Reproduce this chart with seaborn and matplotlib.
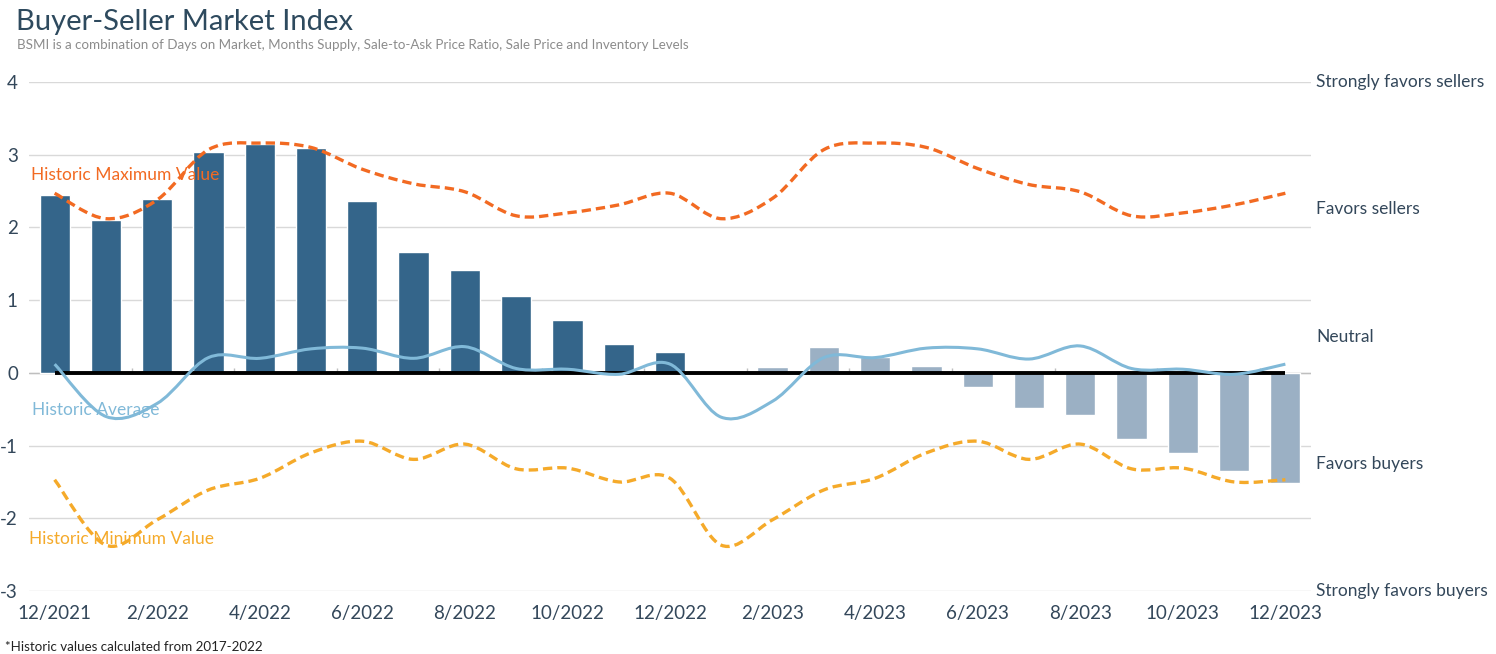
# -*- coding: utf-8 -*-

## Libraries ##

import numpy as np
import pandas as pd
import matplotlib
matplotlib.use("Agg")
import matplotlib.pyplot as plt
import seaborn as sns
from matplotlib.path import Path
from matplotlib.patches import PathPatch

## Data ##

months = ["12/2021", "1/2022", "2/2022", "3/2022", "4/2022", "5/2022", "6/2022",
          "7/2022", "8/2022", "9/2022", "10/2022", "11/2022", "12/2022",
          "1/2023", "2/2023", "3/2023", "4/2023", "5/2023", "6/2023",
          "7/2023", "8/2023", "9/2023", "10/2023", "11/2023", "12/2023"]

bsmi = [2.45, 2.10, 2.39, 3.04, 3.15, 3.09, 2.37, 1.66, 1.42, 1.06, 0.73, 0.40, 0.28,
        0.00, 0.08, 0.36, 0.22, 0.10, -0.19, -0.49, -0.58, -0.91, -1.10, -1.35, -1.52]

period = ["2022"] * 13 + ["2023"] * 12

hist_max = [2.47, 2.12, 2.38, 3.07, 3.16, 3.10, 2.80, 2.60, 2.49, 2.16, 2.20, 2.31, 2.47,
            2.12, 2.40, 3.07, 3.16, 3.10, 2.81, 2.59, 2.49, 2.16, 2.20, 2.31, 2.47]

hist_min = [-1.47, -2.37, -2.02, -1.61, -1.45, -1.10, -0.94, -1.19, -0.98, -1.32, -1.31, -1.50, -1.45,
            -2.37, -2.02, -1.61, -1.45, -1.10, -0.94, -1.19, -0.98, -1.32, -1.31, -1.50, -1.47]

hist_avg = [0.12, -0.60, -0.42, 0.21, 0.20, 0.33, 0.34, 0.20, 0.36, 0.06, 0.05, -0.02, 0.12,
            -0.61, -0.39, 0.21, 0.21, 0.34, 0.33, 0.19, 0.37, 0.06, 0.05, -0.02, 0.12]

zero_line = [0.0] * 25

x_tick_labels = months[::2]
y_ticks = [-3, -2, -1, 0, 1, 2, 3, 4]
side_labels = ["Strongly favors sellers", "Favors sellers", "Neutral",
               "Favors buyers", "Strongly favors buyers"]
side_levels = [4.0, 2.25, 0.5, -1.25, -3.0]

## Colors ##

dark_bar = "#34658A"
light_bar = "#9BB0C4"
max_col = "#F26A22"
min_col = "#F5AA2A"
avg_col = "#80B9D8"
text_col = "#33475A"

FONT = ["Lato", "DejaVu Sans"]


def smooth_path(xs, ys):
    # Excel-like smoothed line: cubic bezier through every point
    pts = np.column_stack([xs, ys]).astype(float)
    n = len(pts)
    verts = [pts[0]]
    codes = [Path.MOVETO]
    for i in range(n - 1):
        p0 = pts[i - 1] if i > 0 else pts[i]
        p1 = pts[i]
        p2 = pts[i + 1]
        p3 = pts[i + 2] if i + 2 < n else pts[i + 1]
        c1 = p1 + (p2 - p0) / 6.0
        c2 = p2 - (p3 - p1) / 6.0
        verts += [c1, c2, p2]
        codes += [Path.CURVE4] * 3
    return Path(verts, codes)


## Plot ##

sns.set_style("white")
plt.rcParams['font.family'] = FONT

df = pd.DataFrame({"Month": months, "BSMI": bsmi, "Period": period})

fig = plt.figure(figsize=(14.96, 6.54), dpi=100)
ax = fig.add_axes([29 / 1496, 1 - 591 / 654, (1311 - 29) / 1496, (591 - 82) / 654])

sns.barplot(data=df, x="Month", y="BSMI", hue="Period", order=months,
            palette={"2022": dark_bar, "2023": light_bar}, dodge=False,
            saturation=1, width=0.59, legend=False, ax=ax, zorder=2)

xs = np.arange(len(months))

ax.axhline(0, color="#BFBFBF", lw=1, zorder=1)
ax.vlines(np.arange(1.5, len(months), 2), 0, 0.07, color="#BFBFBF", lw=1, zorder=1)
ax.plot(xs, zero_line, color="black", lw=2.8, zorder=3, solid_capstyle="butt")

ax.add_patch(PathPatch(smooth_path(xs, hist_avg), fill=False, edgecolor=avg_col,
                       lw=2.2, zorder=4))
ax.add_patch(PathPatch(smooth_path(xs, hist_max), fill=False, edgecolor=max_col,
                       lw=2.4, linestyle=(0, (2.8, 1.5)), zorder=4))
ax.add_patch(PathPatch(smooth_path(xs, hist_min), fill=False, edgecolor=min_col,
                       lw=2.4, linestyle=(0, (2.8, 1.5)), zorder=4))

ax.set_xlim(-0.5, len(months) - 0.5)
ax.set_ylim(-3, 4)
ax.set_yticks(y_ticks)
ax.set_yticklabels([str(v) for v in y_ticks])
ax.set_xticks(xs[::2])
ax.set_xticklabels(x_tick_labels)
ax.grid(axis="y", color="#D9D9D9", lw=1)
ax.set_axisbelow(True)
for s in ax.spines.values():
    s.set_visible(False)
ax.tick_params(axis="both", length=0, labelsize=13.5, colors=text_col)
ax.tick_params(axis="x", pad=10)
ax.tick_params(axis="y", pad=8)
ax.set_xlabel("")
ax.set_ylabel("")

# series labels
ax.text(-0.47, 2.72, "Historic Maximum Value", color=max_col, fontsize=12.5,
        va="center", ha="left", zorder=2.5)
ax.text(-0.45, -0.51, "Historic Average", color=avg_col, fontsize=12.5,
        va="center", ha="left", zorder=2.5)
ax.text(-0.5, -2.28, "Historic Minimum Value", color=min_col, fontsize=12.5,
        va="center", ha="left", zorder=2.5)

# right side scale
for lab, lvl in zip(side_labels, side_levels):
    ax.text(1.004, lvl, lab, transform=ax.get_yaxis_transform(), color=text_col,
            fontsize=12.5, va="center", ha="left")

# titles
fig.text(16 / 1496, 1 - 22 / 654, "Buyer-Seller Market Index", fontsize=21,
         color="#2E4A5E", va="center", ha="left")
fig.text(17 / 1496, 1 - 45 / 654,
         "BSMI is a combination of Days on Market, Months Supply, Sale-to-Ask Price Ratio, "
         "Sale Price and Inventory Levels",
         fontsize=9.6, color="#8C8C8C", va="center", ha="left")
fig.text(5 / 1496, 1 - 647 / 654, "*Historic values calculated from 2017-2022",
         fontsize=9.6, color="#222222", va="center", ha="left")

plt.savefig("out.png", dpi=100)
